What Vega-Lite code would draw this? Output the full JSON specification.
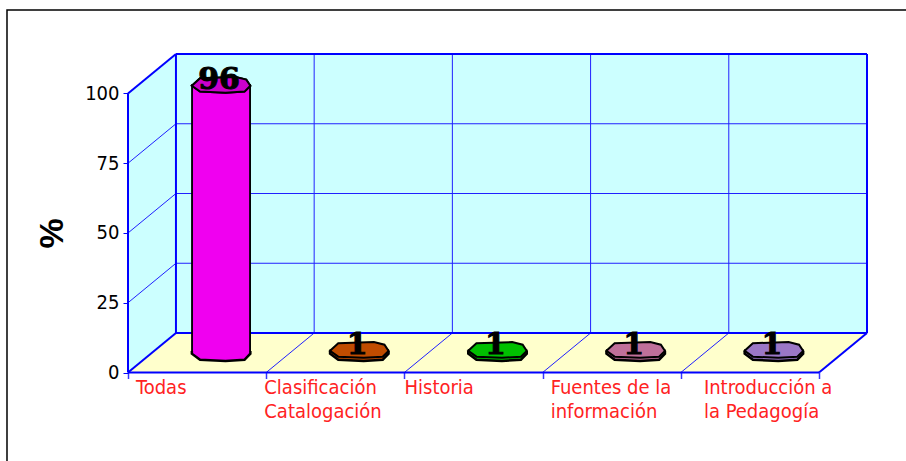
{
  "$schema": "https://vega.github.io/schema/vega-lite/v6.json",
  "width": 739,
  "height": 318.5,
  "autosize": {"type": "none"},
  "padding": {"left": 128, "top": 54, "right": 39, "bottom": 88.5},
  "background": "white",
  "config": {"view": {"stroke": null}},
  "datasets": {
    "bars": [
      {"category": "Todas", "value": 96},
      {"category": "Clasificación Catalogación", "value": 1},
      {"category": "Historia", "value": 1},
      {"category": "Fuentes de la información", "value": 1},
      {"category": "Introducción a la Pedagogía", "value": 1}
    ],
    "frame": [{"x": -0.8755, "x2": 10, "y": 129.9, "y2": -100}],
    "backWall": [{"x": 0.347, "x2": 5.347, "y": 14.15, "y2": 114.15}],
    "leftWall": [{"x": 0, "y": 0, "y2": 100}, {"x": 0.347, "y": 14.15, "y2": 114.15}],
    "floor": [{"y": 0, "x": 0, "x2": 5}, {"y": 14.15, "x": 0.347, "x2": 5.347}],
    "gridLines": [
      {"x": 0.347, "x2": 5.347, "y": 39.15, "y2": 39.15},
      {"x": 0.347, "x2": 5.347, "y": 64.15, "y2": 64.15},
      {"x": 0.347, "x2": 5.347, "y": 89.15, "y2": 89.15},
      {"x": 0, "x2": 0.347, "y": 25, "y2": 39.15},
      {"x": 0, "x2": 0.347, "y": 50, "y2": 64.15},
      {"x": 0, "x2": 0.347, "y": 75, "y2": 89.15},
      {"x": 1.347, "x2": 1.347, "y": 14.15, "y2": 114.15},
      {"x": 2.347, "x2": 2.347, "y": 14.15, "y2": 114.15},
      {"x": 3.347, "x2": 3.347, "y": 14.15, "y2": 114.15},
      {"x": 4.347, "x2": 4.347, "y": 14.15, "y2": 114.15},
      {"x": 1, "x2": 1.347, "y": 0, "y2": 14.15},
      {"x": 2, "x2": 2.347, "y": 0, "y2": 14.15},
      {"x": 3, "x2": 3.347, "y": 0, "y2": 14.15},
      {"x": 4, "x2": 4.347, "y": 0, "y2": 14.15}
    ],
    "edges": [
      {"x": 0, "x2": 0, "y": 0, "y2": 100},
      {"x": 0, "x2": 0.347, "y": 100, "y2": 114.15},
      {"x": 0, "x2": 0.347, "y": 0, "y2": 14.15},
      {"x": 0.347, "x2": 0.347, "y": 14.15, "y2": 114.15},
      {"x": 0.347, "x2": 5.347, "y": 114.15, "y2": 114.15},
      {"x": 5.347, "x2": 5.347, "y": 14.15, "y2": 114.15},
      {"x": 0.347, "x2": 5.347, "y": 14.15, "y2": 14.15},
      {"x": 0, "x2": 5, "y": 0, "y2": 0},
      {"x": 5, "x2": 5.347, "y": 0, "y2": 14.15}
    ]
  },
  "layer": [
    {
      "layer": [
        {
          "data": {"name": "frame"},
          "mark": {"type": "rect", "filled": false, "stroke": "#000000", "strokeWidth": 1.5, "clip": false},
          "encoding": {
            "x": {"field": "x", "type": "quantitative", "scale": {"domain": [0, 5.347], "nice": false, "zero": false}},
            "x2": {"field": "x2"},
            "y": {"field": "y", "type": "quantitative", "scale": {"domain": [0, 114.15], "nice": false, "zero": false}},
            "y2": {"field": "y2"}
          }
        },
        {
          "data": {"name": "backWall"},
          "mark": {"type": "rect", "fill": "#CCFFFF", "strokeWidth": 0},
          "encoding": {
            "x": {"field": "x", "type": "quantitative"},
            "x2": {"field": "x2"},
            "y": {"field": "y", "type": "quantitative"},
            "y2": {"field": "y2"}
          }
        },
        {
          "data": {"name": "leftWall"},
          "mark": {"type": "area", "orient": "vertical", "fill": "#CCFFFF"},
          "encoding": {
            "x": {"field": "x", "type": "quantitative"},
            "y": {"field": "y", "type": "quantitative"},
            "y2": {"field": "y2"}
          }
        },
        {
          "data": {"name": "floor"},
          "mark": {"type": "area", "orient": "horizontal", "fill": "#FFFFCC"},
          "encoding": {
            "y": {"field": "y", "type": "quantitative"},
            "x": {"field": "x", "type": "quantitative"},
            "x2": {"field": "x2"}
          }
        },
        {
          "data": {"name": "gridLines"},
          "mark": {"type": "rule", "color": "#2020FF", "strokeWidth": 1},
          "encoding": {
            "x": {"field": "x", "type": "quantitative"},
            "x2": {"field": "x2"},
            "y": {"field": "y", "type": "quantitative"},
            "y2": {"field": "y2"}
          }
        },
        {
          "data": {"name": "edges"},
          "mark": {"type": "rule", "color": "#0000FF", "strokeWidth": 2},
          "encoding": {
            "x": {
              "field": "x", "type": "quantitative",
              "axis": {"orient": "bottom", "values": [0, 1, 2, 3, 4, 5], "labels": false, "domain": false, "grid": false, "ticks": true, "tickSize": 6, "tickColor": "#3535FF", "tickWidth": 1.5, "title": null}
            },
            "x2": {"field": "x2"},
            "y": {
              "field": "y", "type": "quantitative",
              "axis": {
                "values": [0, 25, 50, 75, 100], "domain": false, "grid": false,
                "tickSize": 5, "tickColor": "#0000FF", "tickWidth": 1,
                "labelFont": "Liberation Sans Narrow, DejaVu Sans Condensed, Liberation Sans, sans-serif", "labelFontSize": 20, "labelColor": "#000000", "labelPadding": 4,
                "title": "%", "titleFont": "Liberation Sans, Arial, sans-serif", "titleFontWeight": "bold", "titleFontSize": 34, "titleColor": "#000000",
                "titleAngle": -90, "titleX": -66, "titleY": 179, "titleAlign": "center", "titleBaseline": "alphabetic"
              }
            },
            "y2": {"field": "y2"}
          }
        }
      ]
    },
    {
      "data": {"name": "bars"},
      "encoding": {
        "x": {
          "field": "category", "type": "nominal", "sort": null,
          "scale": {
            "type": "band",
            "domain": ["Todas", "Clasificación Catalogación", "Historia", "Fuentes de la información", "Introducción a la Pedagogía"],
            "range": [0, 691], "paddingInner": 0, "paddingOuter": 0
          },
          "axis": {
            "orient": "bottom", "ticks": false, "domain": false, "grid": false, "title": null,
            "labelAngle": 0, "labelAlign": "left", "labelBaseline": "top", "labelPadding": 5,
            "labelOffset": {
              "condition": [
                {"test": "datum.value == 'Todas'", "value": -61},
                {"test": "datum.value == 'Clasificación Catalogación'", "value": -71},
                {"test": "datum.value == 'Fuentes de la información'", "value": -61},
                {"test": "datum.value == 'Introducción a la Pedagogía'", "value": -46}
              ],
              "value": -69
            },
            "labelColor": "#FF2222", "labelFont": "Liberation Sans Narrow, DejaVu Sans Condensed, Liberation Sans, sans-serif", "labelFontSize": 20, "labelLineHeight": 24,
            "labelLimit": 300, "labelOverlap": false,
            "labelExpr": "datum.label == 'Clasificación Catalogación' ? ['Clasificación', 'Catalogación'] : datum.label == 'Fuentes de la información' ? ['Fuentes de la', 'información'] : datum.label == 'Introducción a la Pedagogía' ? ['Introducción a', 'la Pedagogía'] : datum.label"
          }
        },
        "color": {
          "field": "category", "type": "nominal", "legend": null,
          "scale": {
            "domain": ["Todas", "Clasificación Catalogación", "Historia", "Fuentes de la información", "Introducción a la Pedagogía"],
            "range": ["#F000F0", "#C04C00", "#00C000", "#C0709A", "#9B77C6"]
          }
        }
      },
      "layer": [
        {
          "mark": {"type": "bar", "width": {"band": 0.42}, "stroke": "#000000", "strokeWidth": 1.5, "xOffset": 24, "yOffset": -19.75, "opacity": 1},
          "encoding": {
            "y": {"field": "value", "type": "quantitative", "scale": {"domain": [0, 114.15], "nice": false, "zero": false}}
          }
        },
        {
          "transform": [{"filter": "datum.category == 'Todas'"}],
          "mark": {
            "type": "bar", "width": {"band": 0.42}, "stroke": "#000000", "strokeWidth": 1.5, "xOffset": 24, "yOffset": -19.75,
            "color": {
              "gradient": "linear", "x1": 0, "x2": 1, "y1": 0, "y2": 0,
              "stops": [
                {"offset": 0, "color": "#E000E0"},
                {"offset": 0.22, "color": "#FF40FF"},
                {"offset": 0.5, "color": "#F000F0"},
                {"offset": 0.72, "color": "#E000E0"},
                {"offset": 0.74, "color": "#F070F0"},
                {"offset": 0.76, "color": "#D000D0"},
                {"offset": 0.83, "color": "#D000D0"},
                {"offset": 0.85, "color": "#F070F0"},
                {"offset": 0.87, "color": "#C800C8"},
                {"offset": 1, "color": "#B000B0"}
              ]
            }
          },
          "encoding": {
            "y": {"field": "value", "type": "quantitative"},
            "color": {"value": null}
          }
        },
        {
          "mark": {
            "type": "point", "filled": true, "opacity": 1, "size": 3422, "stroke": "#000000", "strokeWidth": 2.5,
            "xOffset": 24, "yOffset": -19.75,
            "shape": "M-1,-0.06 L-1,0.03 L-0.72,0.24 L0.15,0.28 L0.8,0.24 L1,0.03 L1,-0.06"
          },
          "encoding": {
            "y": {"datum": 0, "type": "quantitative"}
          }
        },
        {
          "mark": {
            "type": "point", "filled": true, "opacity": 1, "size": 3422, "stroke": "#000000", "strokeWidth": 2,
            "xOffset": 24, "yOffset": -19.75,
            "shape": "M-1,0.03 L-0.72,-0.23 L0.5,-0.27 L0.86,-0.18 L1,0.03 L0.8,0.23 L0.15,0.27 L-0.72,0.23 Z"
          },
          "encoding": {
            "y": {"field": "value", "type": "quantitative"}
          }
        },
        {
          "transform": [{"filter": "datum.category == 'Todas'"}],
          "mark": {
            "type": "point", "filled": true, "opacity": 1, "size": 3422, "stroke": "#000000", "strokeWidth": 2,
            "xOffset": 24, "yOffset": -19.75, "fill": "#CC00CC",
            "shape": "M-1,0.03 L-0.72,-0.23 L0.5,-0.27 L0.86,-0.18 L1,0.03 L0.8,0.23 L0.15,0.27 L-0.72,0.23 Z"
          },
          "encoding": {
            "y": {"field": "value", "type": "quantitative"},
            "color": {"value": "#CC00CC"}
          }
        },
        {
          "mark": {
            "type": "text", "font": "DejaVu Serif", "fontWeight": "bold", "fontSize": 30,
            "color": "#000000", "stroke": "#000000", "strokeWidth": 1,
            "align": "center", "baseline": "alphabetic", "xOffset": 22, "yOffset": -16
          },
          "encoding": {
            "y": {"field": "value", "type": "quantitative"},
            "text": {"field": "value", "type": "quantitative"},
            "color": {"value": "#000000"}
          }
        }
      ]
    }
  ],
  "resolve": {"scale": {"x": "independent"}, "axis": {"x": "independent"}}
}
